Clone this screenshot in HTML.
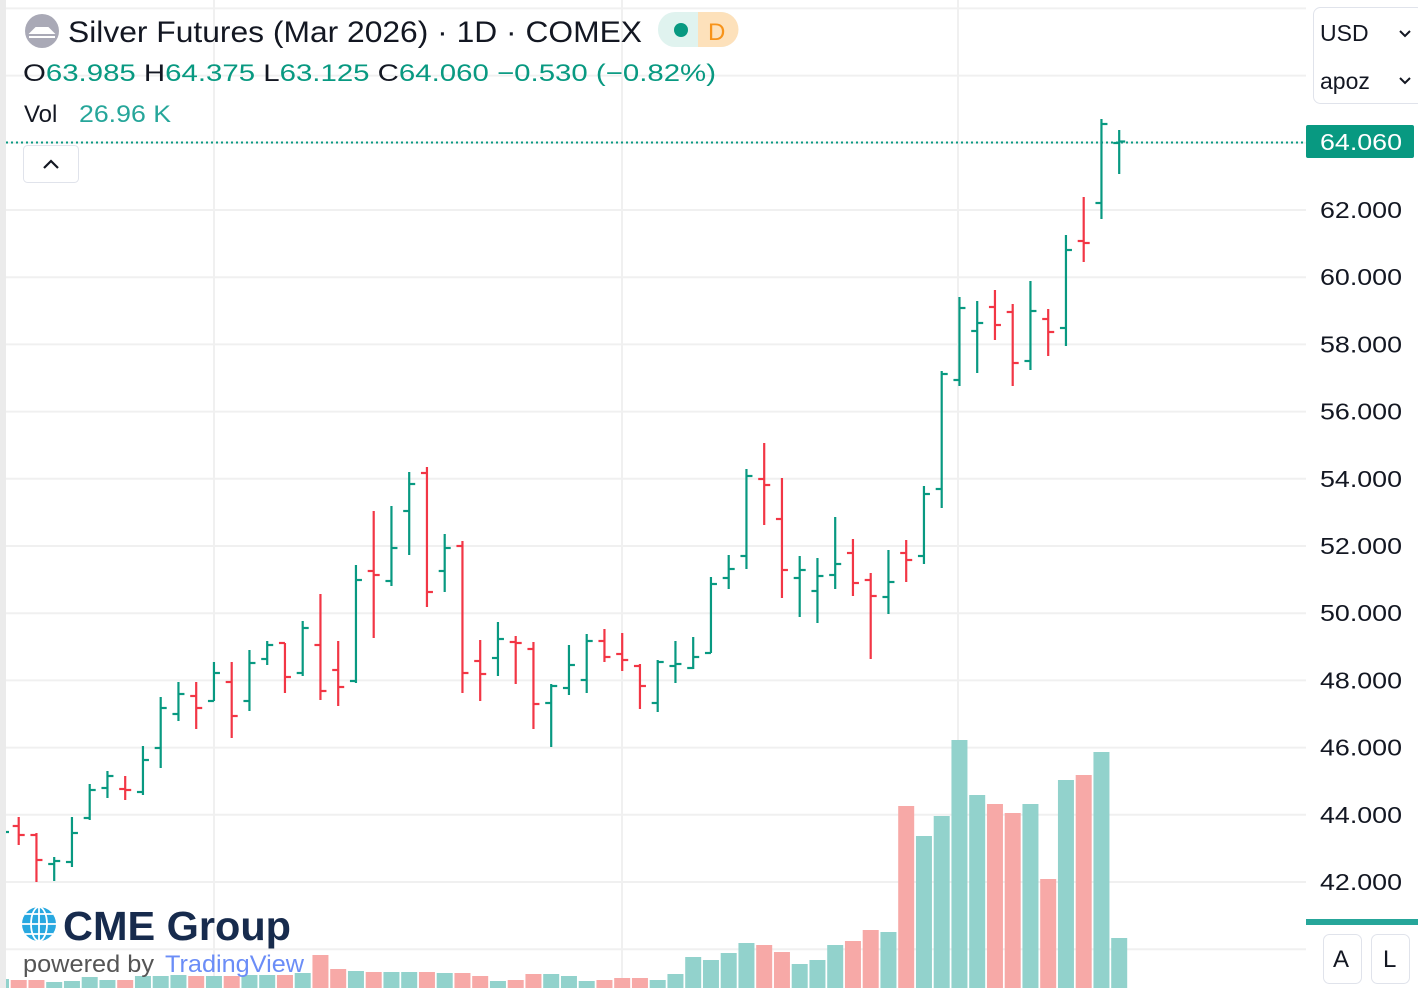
<!DOCTYPE html>
<html><head><meta charset="utf-8"><style>
html,body{margin:0;padding:0;background:#fff;width:1418px;height:988px;overflow:hidden}
svg{display:block}
text{font-family:"Liberation Sans",sans-serif}
</style></head><body>
<svg id="s" width="1418" height="988" viewBox="0 0 1418 988" xmlns="http://www.w3.org/2000/svg">
<rect x="0" y="0" width="1418" height="988" fill="#fff"/>
<g id="grid" stroke="#f0f0f0" stroke-width="2"></g>
<g id="vol"></g>
<g id="bars" stroke-width="2.2" fill="none"></g>
<rect x="0" y="0" width="6" height="988" fill="#ebebeb"/>
<line x1="6" y1="142.5" x2="1306" y2="142.5" stroke="#089981" stroke-width="2" stroke-dasharray="2,3"/>
<!-- header -->
<circle cx="42" cy="31" r="17" fill="#a9a9b6"/>
<path d="M31 33 L36 28 L48 28 L53 33 Z M29 37 H55" stroke="#fff" stroke-width="2" fill="#fff"/>
<text x="68" y="42" font-size="30" fill="#131722" textLength="574" lengthAdjust="spacingAndGlyphs">Silver Futures (Mar 2026) · 1D · COMEX</text>
<rect x="658" y="12" width="80" height="35" rx="17" fill="#e0f3ef"/>
<path d="M698 12 H721 A17 17 0 0 1 721 47 H698 Z" fill="#fde1bb"/>
<circle cx="681" cy="30" r="7" fill="#089981"/>
<text x="708" y="40" font-size="24" fill="#f7931a">D</text>
<text x="23" y="81" font-size="24" textLength="693" lengthAdjust="spacingAndGlyphs"><tspan fill="#131722">O</tspan><tspan fill="#089981">63.985 </tspan><tspan fill="#131722">H</tspan><tspan fill="#089981">64.375 </tspan><tspan fill="#131722">L</tspan><tspan fill="#089981">63.125 </tspan><tspan fill="#131722">C</tspan><tspan fill="#089981">64.060 −0.530 (−0.82%)</tspan></text>
<text x="24" y="122" font-size="24" fill="#131722">Vol</text>
<text x="79" y="122" font-size="24" fill="#26a69a" textLength="92" lengthAdjust="spacingAndGlyphs">26.96 K</text>
<rect x="23.5" y="145.5" width="55" height="37" rx="4" fill="#fff" stroke="#e0e3eb"/>
<path d="M44 168 L51 161 L58 168" stroke="#131722" stroke-width="2.2" fill="none"/>
<!-- logo -->
<g>
<circle cx="39" cy="924" r="17" fill="#28a8e0"/>
<path d="M22 924 H56 M39 907 V941 M25 914 H53 M25 934 H53" stroke="#fff" stroke-width="1.8" fill="none"/>
<ellipse cx="39" cy="924" rx="8" ry="17" stroke="#fff" stroke-width="1.8" fill="none"/>
<text x="63" y="940" font-size="41" font-weight="bold" fill="#172b4d" textLength="228" lengthAdjust="spacingAndGlyphs">CME Group</text>
<text x="23" y="972" font-size="24" fill="#555" textLength="131" lengthAdjust="spacingAndGlyphs">powered by</text>
<text x="165" y="972" font-size="24" fill="#6b8df7" textLength="139" lengthAdjust="spacingAndGlyphs">TradingView</text>
</g>
<!-- right axis -->
<rect x="1306" y="0" width="112" height="988" fill="#fff"/>
<rect x="1313.5" y="7.5" width="110" height="96" rx="7" fill="#fff" stroke="#e0e3eb"/>
<text x="1320" y="41" font-size="23" fill="#131722">USD</text>
<text x="1320" y="89" font-size="23" fill="#131722">apoz</text>
<path d="M1400 31 L1405 36 L1410 31 M1400 78 L1405 83 L1410 78" stroke="#131722" stroke-width="2" fill="none"/>
<g id="plabels" font-size="23" fill="#131722"></g>
<rect x="1306" y="125" width="108" height="33" rx="2" fill="#089981"/>
<text x="1320" y="150" font-size="23" fill="#fff" textLength="82" lengthAdjust="spacingAndGlyphs">64.060</text>
<rect x="1306" y="919" width="112" height="6" fill="#26a69a"/>
<rect x="1323.5" y="934.5" width="38" height="49" rx="6" fill="#fff" stroke="#e0e3eb"/>
<rect x="1371.5" y="934.5" width="38" height="49" rx="6" fill="#fff" stroke="#e0e3eb"/>
<text x="1333" y="967" font-size="24" fill="#131722">A</text>
<text x="1383" y="967" font-size="24" fill="#131722">L</text>
</svg>
<script>
var NS="http://www.w3.org/2000/svg";
function el(p,t,a){var e=document.createElementNS(NS,t);for(var k in a)e.setAttribute(k,a[k]);p.appendChild(e);return e;}
var g=document.getElementById('grid');
for(var p=40;p<=68;p+=2){var y=210+(62-p)*33.6;el(g,'line',{x1:6,x2:1306,y1:y,y2:y});}
[214,622,958].forEach(function(x){el(g,'line',{x1:x,x2:x,y1:0,y2:988});});
var pl=document.getElementById('plabels');
for(var p=42;p<=62;p+=2){var y=210+(62-p)*33.6;var t=el(pl,'text',{x:1320,y:y+8,textLength:82,lengthAdjust:'spacingAndGlyphs'});t.textContent=p+'.000';}
var d=[
[817,845,826,835],[833,882,835,860],[857,881,864,861],[817,867,862,833],[784,820,818,790],
[771,798,788,776],[776,800,789,790],[746,795,792,760],[697,768,748,708],[682,721,714,694],
[682,729,696,708],[662,701,701,673],[662,738,682,716],[650,711,701,663],[641,665,659,645],
[643,693,643,677],[621,676,673,628],[594,700,645,691],[641,706,670,687],[565,683,681,580],
[511,638,571,575],[506,586,581,548],[472,555,511,484],[467,607,473,592],[534,592,571,548],
[541,693,546,673],[640,701,661,674],[622,676,658,639],[636,684,642,643],[642,729,649,704],
[684,747,703,686],[645,695,688,665],[634,693,680,641],[629,662,641,657],[633,671,654,660],
[664,709,666,686],[660,712,703,662],[641,683,666,664],[637,669,668,657],[577,653,653,584],
[555,589,578,569],[469,569,556,476],[443,525,479,485],[478,598,519,570],[556,617,578,570],
[558,623,591,576],[517,589,575,564],[539,596,553,583],[573,659,580,596],[550,614,597,582],
[540,582,553,560],[486,564,556,494],[371,508,489,374],[297,386,380,308],[301,373,331,323],
[290,340,307,325],[304,386,312,363],[281,370,361,311],[309,356,319,332],[235,346,328,250],
[197,262,241,243],[119,219,203,124],[130,174,143,141.5]];
var v=[980,980,982,981,977,980,980,976,976,975,976,976,976,975,975,975,973,955,969,971,
972,972,972,972,973,973,976,981,980,974,974,976,981,980,978,978,980,974,957,960,
953,943,945,952,964,960,945,941,930,932,806,836,816,740,795,804,813,804,879,780,775,752,938];
var bg=document.getElementById('bars'),vg=document.getElementById('vol');
el(vg,'rect',{x:0,y:979,width:9,height:9,fill:'#92d2cc'});
el(bg,'line',{x1:6,x2:9,y1:832,y2:832,stroke:'#089981'});
for(var i=0;i<d.length;i++){
 var x=18.7+17.75*i,b=d[i],up=b[3]<b[2];
 if(i==28||i==6||i==60)up=false;
 var c=up?'#089981':'#f23645',vc=up?'#92d2cc':'#f7a9a7';
 el(vg,'rect',{x:x-8,y:v[i],width:16,height:988-v[i],fill:vc});
 el(bg,'line',{x1:x,x2:x,y1:b[0],y2:b[1],stroke:c});
 el(bg,'line',{x1:x-6,x2:x,y1:b[2],y2:b[2],stroke:c});
 el(bg,'line',{x1:x,x2:x+6,y1:b[3],y2:b[3],stroke:c});
}
</script>
</body></html>
